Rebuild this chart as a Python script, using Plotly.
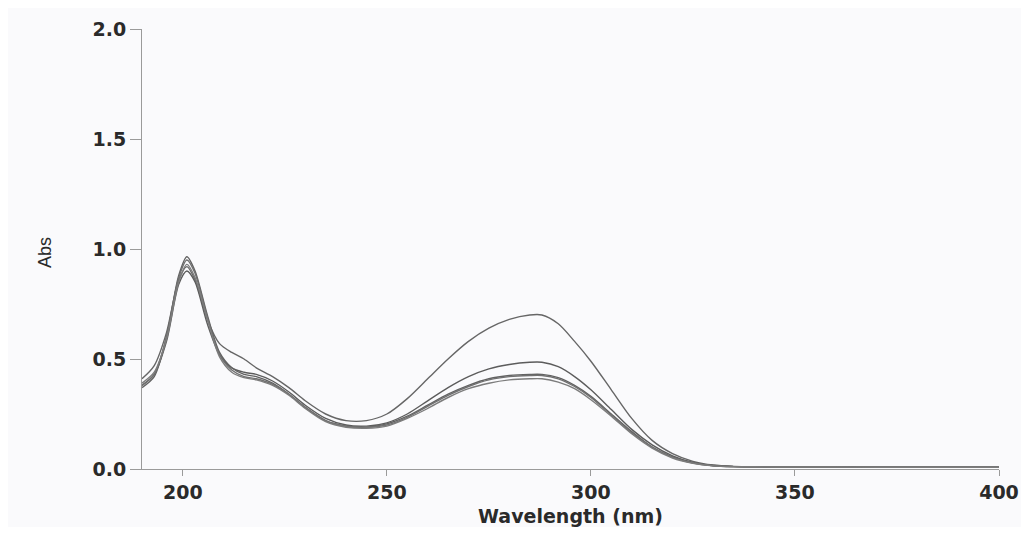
import plotly.graph_objects as go

wavelength = [190, 193, 196, 199, 201, 203, 206, 209, 212, 215, 218, 222, 226, 230, 235,
              240, 245, 250, 255, 260, 265, 270, 275, 280, 285, 288, 292, 296, 300, 305,
              310, 315, 320, 325, 330, 335, 340, 350, 360, 370, 380, 390, 400]

abs_a = [0.41, 0.47, 0.62, 0.86, 0.92, 0.86, 0.68, 0.57, 0.53, 0.50, 0.46, 0.42, 0.37, 0.31, 0.25,
         0.22, 0.22, 0.25, 0.32, 0.41, 0.50, 0.58, 0.64, 0.68, 0.70, 0.70, 0.66, 0.58, 0.49, 0.36,
         0.23, 0.13, 0.07, 0.035, 0.018, 0.012, 0.010, 0.009, 0.009, 0.008, 0.008, 0.008, 0.008]

abs_b = [0.38, 0.43, 0.58, 0.84, 0.90, 0.85, 0.66, 0.52, 0.46, 0.44, 0.43, 0.40, 0.35, 0.29, 0.23,
         0.20, 0.195, 0.21, 0.25, 0.31, 0.37, 0.42, 0.455, 0.475, 0.485, 0.485, 0.465, 0.42, 0.36, 0.27,
         0.18, 0.11, 0.06, 0.03, 0.016, 0.011, 0.010, 0.009, 0.009, 0.008, 0.008, 0.008, 0.008]

abs_c = [0.37, 0.42, 0.60, 0.88, 0.965, 0.90, 0.70, 0.53, 0.46, 0.43, 0.42, 0.39, 0.34, 0.28, 0.22,
         0.195, 0.19, 0.205, 0.24, 0.29, 0.34, 0.38, 0.41, 0.425, 0.43, 0.43, 0.415, 0.38, 0.33, 0.25,
         0.17, 0.10, 0.055, 0.028, 0.015, 0.011, 0.010, 0.009, 0.009, 0.008, 0.008, 0.008, 0.008]

abs_d = [0.38, 0.43, 0.60, 0.87, 0.95, 0.89, 0.69, 0.52, 0.45, 0.42, 0.41, 0.385, 0.34, 0.28, 0.22,
         0.195, 0.19, 0.20, 0.235, 0.285, 0.335, 0.375, 0.405, 0.42, 0.425, 0.425, 0.41, 0.375, 0.325, 0.245,
         0.165, 0.10, 0.053, 0.027, 0.015, 0.011, 0.010, 0.009, 0.009, 0.008, 0.008, 0.008, 0.008]

abs_e = [0.39, 0.44, 0.59, 0.85, 0.93, 0.87, 0.68, 0.51, 0.44, 0.415, 0.405, 0.38, 0.335, 0.275, 0.215,
         0.19, 0.185, 0.195, 0.23, 0.275, 0.325, 0.365, 0.39, 0.405, 0.41, 0.41, 0.395, 0.365, 0.315, 0.24,
         0.16, 0.095, 0.05, 0.026, 0.014, 0.011, 0.010, 0.009, 0.009, 0.008, 0.008, 0.008, 0.008]

x_ticks = [200, 250, 300, 350, 400]
y_ticks = [0.0, 0.5, 1.0, 1.5, 2.0]

series = [abs_a, abs_b, abs_c, abs_d, abs_e]
colors = ["#666666", "#5c5c5c", "#626262", "#707070", "#7c7c7c"]

fig = go.Figure()
for ys, c in zip(series, colors):
    fig.add_trace(go.Scatter(x=wavelength, y=ys, mode="lines",
                             line=dict(color=c, width=1.4, shape="spline", smoothing=0.8),
                             showlegend=False, hoverinfo="skip"))

bold_font = "DejaVu Sans, Verdana, sans-serif"
tick_font = dict(family=bold_font, size=19, color="#2a2a2a")

fig.update_layout(
    width=1013, height=519,
    margin=dict(l=134, r=22, t=21, b=58),
    paper_bgcolor="#fafafc", plot_bgcolor="#fafafc",
)
fig.update_xaxes(
    range=[190, 400], tickvals=x_ticks,
    ticktext=[f"<b>{v}</b>" for v in x_ticks],
    showgrid=False, zeroline=False, showline=True, linecolor="#9a9a9a", linewidth=1,
    ticks="outside", ticklen=6, tickcolor="#9a9a9a", tickfont=tick_font, automargin=False,
    title=dict(text="<b>Wavelength (nm)</b>", font=dict(family=bold_font, size=19, color="#2a2a2a"),
               standoff=12),
)
fig.update_yaxes(
    range=[0, 2.0], tickvals=y_ticks,
    ticktext=[f"<b>{v:.1f}</b>" for v in y_ticks],
    showgrid=False, zeroline=False, showline=True, linecolor="#9a9a9a", linewidth=1,
    ticks="outside", ticklen=11, tickcolor="#9a9a9a", tickfont=tick_font, automargin=False,
)
fig.add_annotation(
    text="Abs", textangle=-90, showarrow=False,
    xref="paper", yref="paper", x=-0.113, y=0.491, xanchor="center", yanchor="middle",
    font=dict(family="Liberation Sans, Arial, sans-serif", size=18, color="#2a2a2a"),
)

fig.write_html("out.html")
